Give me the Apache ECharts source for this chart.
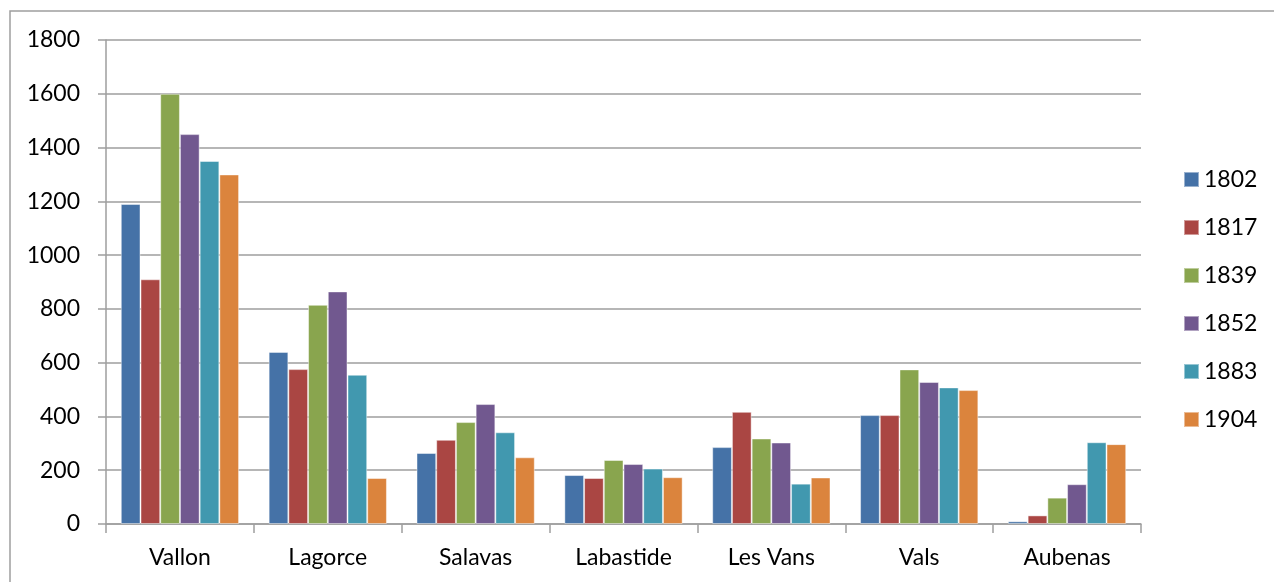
<!DOCTYPE html>
<html>
<head>
<meta charset="utf-8">
<title>Population 1802-1904</title>
<script src="https://cdn.jsdelivr.net/npm/echarts@6/dist/echarts.min.js"></script>
<style>
  html, body { margin: 0; padding: 0; background: #fff; }
  #chart { width: 1274px; height: 582px; }
</style>
</head>
<body>
<div id="chart"></div>
<script>
// communes on the x axis
const towns = ['Vallon', 'Lagorce', 'Salavas', 'Labastide', 'Les Vans', 'Vals', 'Aubenas']
const years = ['1802', '1817', '1839', '1852', '1883', '1904']

// one array per census year, same order as towns
const y1802 = [1190, 640, 264, 182, 286, 405, 10]
const y1817 = [910, 576, 313, 171, 417, 405, 32]
const y1839 = [1600, 815, 379, 238, 318, 575, 98]
const y1852 = [1450, 865, 446, 223, 303, 528, 148]
const y1883 = [1350, 555, 341, 206, 150, 508, 304]
const y1904 = [1300, 171, 248, 174, 173, 498, 297]

const yTicks = [0, 200, 400, 600, 800, 1000, 1200, 1400, 1600, 1800]

const colors = ['#4572a7', '#aa4643', '#89a54e', '#71588f', '#4198af', '#db843d']
const values = [y1802, y1817, y1839, y1852, y1883, y1904]

const font = 'Lato, "Open Sans", sans-serif'
const fontSize = 23

const chart = echarts.init(document.getElementById('chart'))
chart.setOption({
  backgroundColor: '#fff',
  animation: false,
  color: colors,
  // chart frame, only top and left edges show in the picture
  graphic: [{
    type: 'rect',
    shape: { x: 10, y: 11, width: 1400, height: 700 },
    style: { fill: 'none', stroke: '#9e9e9e', lineWidth: 1.5 },
    silent: true
  }],
  grid: {
    left: 106,
    right: 133,
    top: 40,
    bottom: 58
  },
  legend: {
    orient: 'vertical',
    left: 1178,
    top: 163,
    itemWidth: 15,
    itemHeight: 15,
    itemGap: 25,
    icon: 'rect',
    data: years,
    textStyle: {
      fontFamily: font,
      fontSize: fontSize,
      color: '#000',
      padding: [0, 0, 0, 0]
    }
  },
  xAxis: {
    type: 'category',
    data: towns,
    axisLine: { lineStyle: { color: '#9e9e9e', width: 1.5 } },
    axisTick: { show: true, length: 9, lineStyle: { color: '#9e9e9e', width: 1.5 } },
    axisLabel: {
      margin: 22,
      fontFamily: font,
      fontSize: fontSize,
      color: '#000'
    }
  },
  yAxis: {
    type: 'value',
    min: yTicks[0],
    max: yTicks[yTicks.length - 1],
    interval: 200,
    axisLine: { show: true, lineStyle: { color: '#9e9e9e', width: 1.5 } },
    axisTick: { show: true, length: 8, lineStyle: { color: '#9e9e9e', width: 1.5 } },
    axisLabel: {
      margin: 26,
      fontFamily: font,
      fontSize: fontSize,
      color: '#000',
      formatter: v => String(v)
    },
    splitLine: { lineStyle: { color: '#9e9e9e', width: 1.5 } }
  },
  series: years.map((y, i) => ({
    name: y,
    type: 'bar',
    data: values[i],
    barGap: '0%',
    barCategoryGap: '20%',
    itemStyle: {
      color: colors[i],
      borderColor: 'rgba(255,255,255,0.45)',
      borderWidth: 1
    }
  }))
})
</script>
</body>
</html>
